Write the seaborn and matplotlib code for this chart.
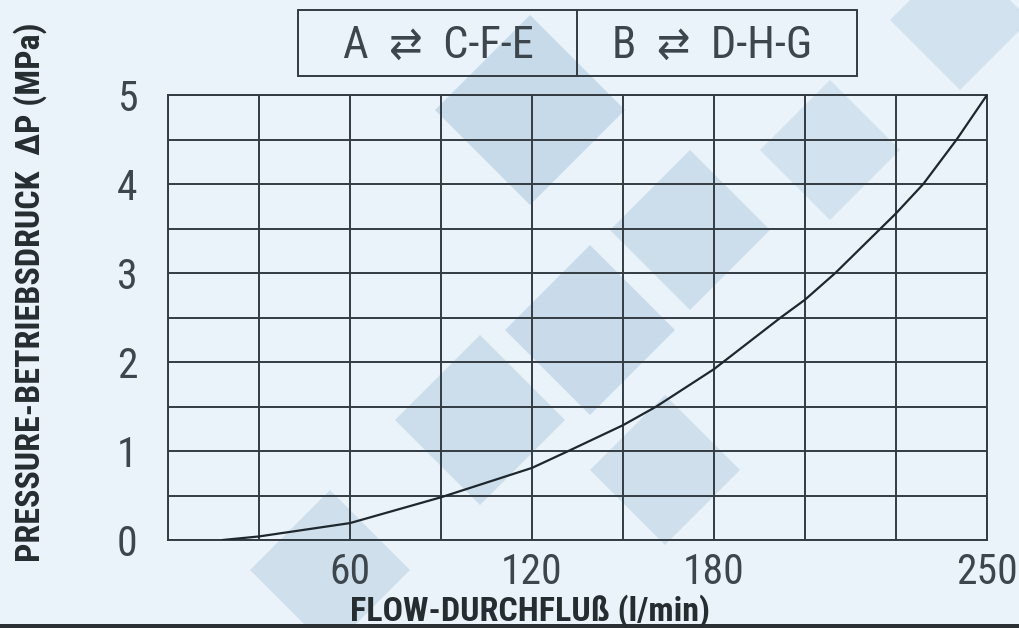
import matplotlib
matplotlib.use("Agg")
import matplotlib.pyplot as plt
from matplotlib.patches import Rectangle, Polygon
from matplotlib.lines import Line2D
import seaborn as sns
import pandas as pd

# curve (x in grid units, last column is labelled 250)
flow = [18, 30, 60, 90, 120, 132, 150, 161, 180, 202, 210, 220, 240, 249, 260, 270]
pressure = [0, 0.04, 0.19, 0.48, 0.81, 1.0, 1.29, 1.5, 1.92, 2.5, 2.7, 3.0, 3.67, 4.0, 4.5, 5.0]

xtick_pos = [60, 120, 180, 270]
xtick_labels = ["60", "120", "180", "250"]
ytick_pos = [0, 1, 2, 3, 4, 5]

title_left = "A  \u21c4  C-F-E"
title_right = "B  \u21c4  D-H-G"
xlabel = "FLOW-DURCHFLUß (l/min)"
ylabel = "PRESSURE-BETRIEBSDRUCK  \u0394P (MPa)"

bg = "#eaf3f9"
ink = "#333c42"

sns.set_style("white")
plt.rcParams['font.family'] = ['Roboto Condensed', 'Liberation Sans Narrow', 'DejaVu Sans']
plt.rcParams['font.stretch'] = 'condensed'

df = pd.DataFrame({'flow': flow, 'pressure': pressure})

fig = plt.figure(figsize=(10.19, 6.28), dpi=100, facecolor=bg)
ax = fig.add_axes([168/1019, 1-540/628, (987-168)/1019, (540-95)/628])
ax.set_facecolor('none')

# faint watermark diamonds behind the chart
W, H = 1019, 628
for cx, cy, r, a in [(530, 110, 95, 0.32), (690, 230, 80, 0.28), (590, 330, 85, 0.30),
                     (480, 420, 85, 0.28), (665, 470, 75, 0.25), (830, 150, 70, 0.22),
                     (330, 570, 80, 0.25), (960, 20, 70, 0.22)]:
    pts = [((cx-r)/W, 1-cy/H), (cx/W, 1-(cy-r)/H), ((cx+r)/W, 1-cy/H), (cx/W, 1-(cy+r)/H)]
    fig.patches.append(Polygon(pts, closed=True, transform=fig.transFigure,
                               facecolor="#7fa6c8", edgecolor='none', alpha=a, zorder=-5))

sns.lineplot(data=df, x='flow', y='pressure', ax=ax, color="#1d272d", linewidth=1.6, zorder=5)

ax.set_xlim(0, 270)
ax.set_ylim(0, 5)
ax.set_xticks(xtick_pos)
ax.set_xticklabels(xtick_labels)
ax.set_yticks(ytick_pos)
ax.set_xticks([i*30 for i in range(10)], minor=True)
ax.set_yticks([i*0.5 for i in range(11)], minor=True)
ax.grid(which='both', color=ink, linewidth=1.4)
ax.tick_params(which='both', length=0)
ax.tick_params(axis='x', pad=9, labelsize=30, labelcolor="#3d464c")
ax.tick_params(axis='y', pad=22, labelsize=30, labelcolor="#3d464c")
for s in ax.spines.values():
    s.set_color(ink)
    s.set_linewidth(1.4)
ax.set_xlabel("")
ax.set_ylabel("")

fig.text(530/W, 1-611/H, xlabel, ha='center', va='center', fontsize=24.5,
         fontweight='bold', color="#262d31")
fig.text(30/W, 1-292/H, ylabel, ha='center', va='center', rotation=90, fontsize=24.5,
         fontweight='bold', color="#262d31")

# title box
fig.patches.append(Rectangle((298/W, 1-76/H), (857-298)/W, 66/H, transform=fig.transFigure,
                             fill=False, edgecolor=ink, linewidth=1.4))
fig.lines.append(Line2D([577/W, 577/W], [1-76/H, 1-10/H], transform=fig.transFigure,
                        color=ink, linewidth=1.4))
fig.text(438/W, 1-46/H, title_left, ha='center', va='center', fontsize=32, color="#3d464c")
fig.text(712/W, 1-46/H, title_right, ha='center', va='center', fontsize=32, color="#3d464c")

fig.patches.append(Rectangle((0, 0), 1, 4/H, transform=fig.transFigure,
                             facecolor="#2a3034", edgecolor='none'))

fig.savefig("out.png", dpi=100, facecolor=bg)
